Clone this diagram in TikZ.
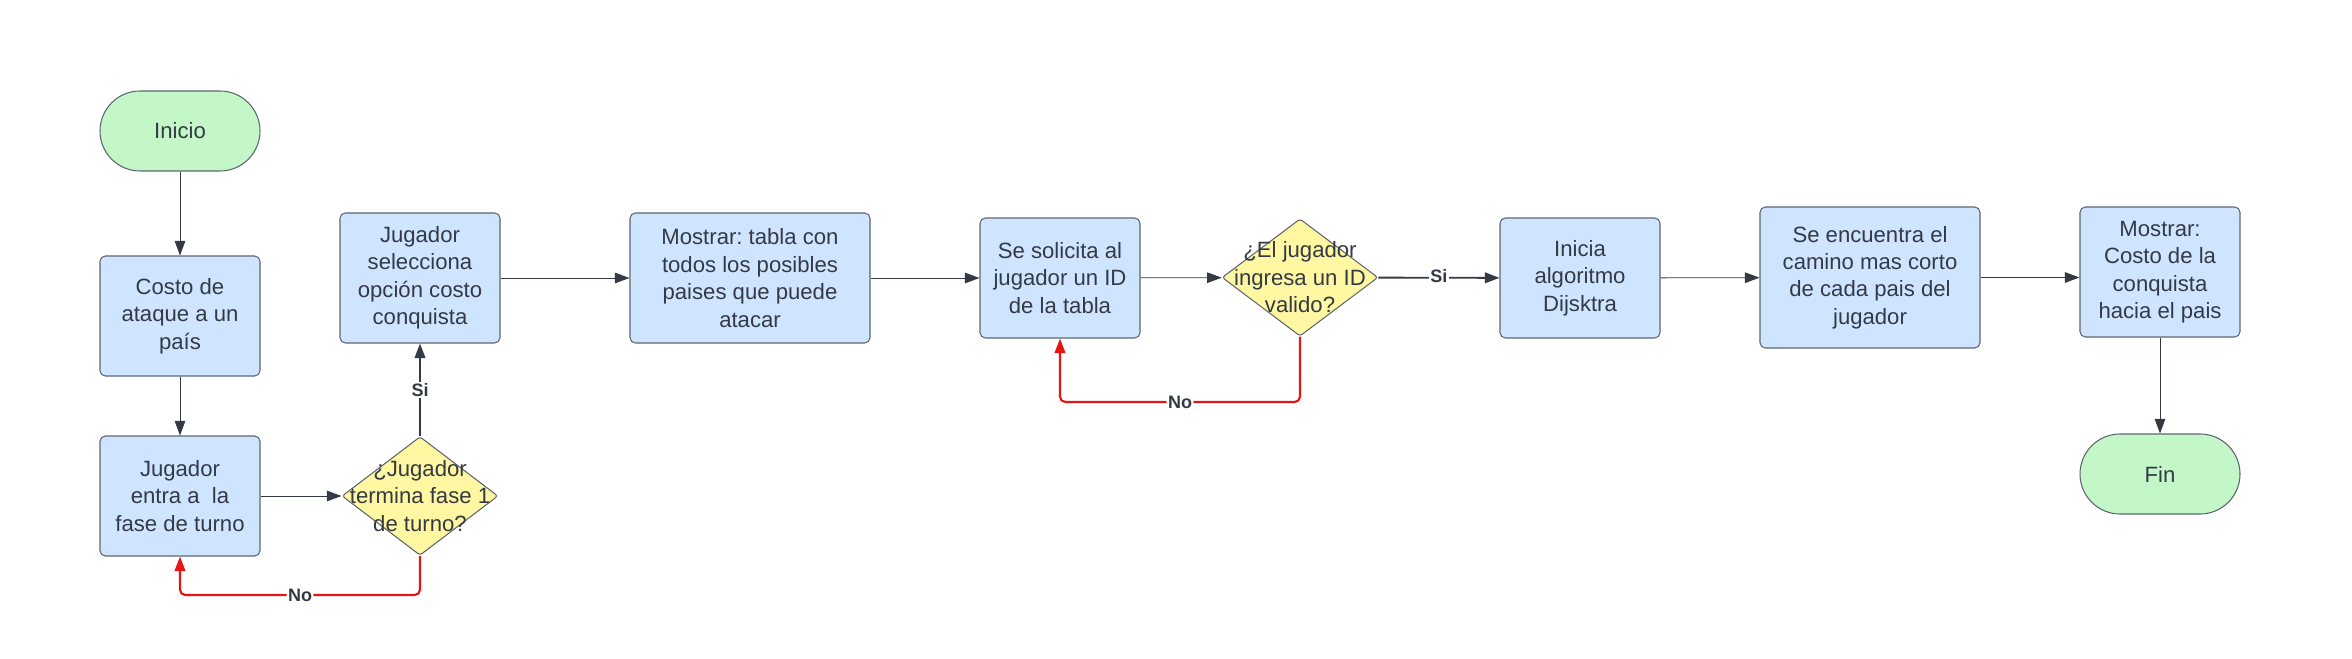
\documentclass[tikz,border=0pt]{standalone}
\usepackage{fontspec}
\setmainfont{Liberation Sans}
\usetikzlibrary{arrows.meta}
\usetikzlibrary{shapes.geometric}
\frenchspacing

\definecolor{boxblue}{RGB}{207,228,255}
\definecolor{termgreen}{RGB}{195,247,200}
\definecolor{decyellow}{RGB}{255,247,161}
\definecolor{edgegray}{RGB}{95,102,112}
\definecolor{inkgray}{RGB}{51,58,69}
\definecolor{loopred}{RGB}{232,19,19}

\begin{document}
\begin{tikzpicture}[x=0.75pt,y=0.75pt,yscale=-1,xscale=1,
  every node/.style={font=\fontsize{16.6}{20.6}\selectfont, text=inkgray, align=center},
  proc/.style={draw=edgegray, fill=boxblue, line width=0.8pt, rounded corners=4pt, inner sep=0pt},
  term/.style={draw=edgegray, fill=termgreen, line width=0.8pt, rounded corners=30pt, inner sep=0pt,
    minimum width=120pt, minimum height=60pt},
  decision/.style={draw=edgegray, fill=decyellow, line width=0.8pt, diamond, rounded corners=2pt, inner sep=0pt},
  flow/.style={draw=inkgray, line width=0.6pt, -{Triangle[length=11pt,width=8pt]}},
  yes/.style={draw=inkgray, line width=1.4pt, -{Triangle[length=11pt,width=8pt]}},
  no/.style={draw=loopred, line width=1.6pt, rounded corners=4pt, -{Triangle[length=11pt,width=8pt]}},
  tag/.style={fill=white, inner sep=1pt, font=\fontsize{13.5}{15}\selectfont\bfseries}
  ]
\useasboundingbox (0,0) rectangle (2352,659);

% left column
\node [term] (inicio) at (180,131) {Inicio};
\node [proc, minimum width=120pt, minimum height=90pt] (costo) at (180,316) {Costo de\\ataque a un\\país};
\node [proc, minimum width=120pt, minimum height=90pt] (entra) at (180,496) {Jugador\\entra a~~la\\fase de turno};

% first decision
\node [decision, minimum width=117pt, minimum height=89pt] (dec1) at (420,496) {};
\node (dec1t) at (dec1) {¿Jugador\\termina fase 1\\de turno?};
\node [proc, minimum width=120pt, minimum height=97.5pt] (selecc) at (420,278) {Jugador\\selecciona\\opción costo\\conquista};

% main row
\node [proc, minimum width=180pt, minimum height=97.5pt] (mostrar) at (750,278) {Mostrar: tabla con\\todos los posibles\\paises que puede\\atacar};
\node [proc, minimum width=120pt, minimum height=90pt] (solicita) at (1060,278) {Se solicita al\\jugador un ID\\de la tabla};
\node [decision, minimum width=117pt, minimum height=88pt] (dec2) at (1300,277.5) {};
\node (dec2t) at (dec2) {¿El jugador\\ingresa un ID\\valido?};
\node [proc, minimum width=120pt, minimum height=90pt] (inicia) at (1580,278) {Inicia\\algoritmo\\Dijsktra};
\node [proc, minimum width=165pt, minimum height=105.75pt] (encuentra) at (1870,277.5) {Se encuentra el\\camino mas corto\\de cada pais del\\jugador};
\node [proc, minimum width=120pt, minimum height=97.5pt] (mostrar2) at (2160,272) {Mostrar:\\Costo de la\\conquista\\hacia el pais};
\node [term] (fin) at (2160,474) {Fin};

% loop corners
\coordinate (loop1) at (180,595);
\coordinate (loop2) at (1060,402);

% connectors
\draw [flow] (inicio) -- (costo);
\draw [flow] (costo) -- (entra);
\draw [flow] (entra) -- (dec1);
\draw [yes] (dec1) -- node [tag] {Si} (selecc);
\draw [no] (dec1.south) -- (dec1.south |- loop1) -- node [tag] {No} (loop1) -- (entra.south);
\draw [flow] (selecc) -- (mostrar);
\draw [flow] (mostrar) -- (solicita);
\draw [flow] (solicita) -- (dec2);
\draw [yes] (dec2) -- node [tag, yshift=1.5pt] {Si} (inicia);
\draw [no] (dec2.south) -- (dec2.south |- loop2) -- node [tag] {No} (loop2) -- (solicita.south);
\draw [flow] (inicia) -- (encuentra);
\draw [flow] (encuentra.east) -- (encuentra.east -| mostrar2.west);
\draw [flow] (mostrar2) -- (fin);

\end{tikzpicture}
\end{document}
